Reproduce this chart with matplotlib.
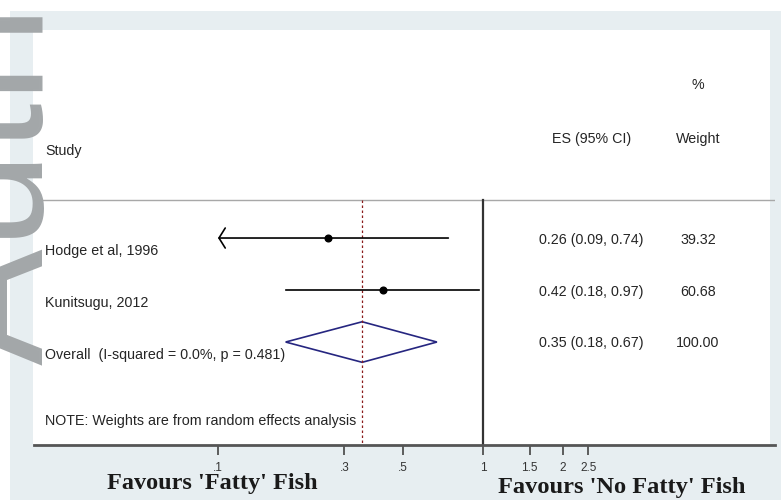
import matplotlib
matplotlib.use("Agg")
import matplotlib.pyplot as plt
from matplotlib.patches import Rectangle, Polygon
import matplotlib.transforms as mtransforms
import numpy as np

# study data (ES = odds ratio, 95% CI, % weight)
studies = ["Hodge et al, 1996", "Kunitsugu, 2012"]
es = [0.26, 0.42]
ci_lo = [0.09, 0.18]
ci_hi = [0.74, 0.97]
weights = [39.32, 60.68]

overall_label = "Overall  (I-squared = 0.0%, p = 0.481)"
overall_es = 0.35
overall_lo = 0.18
overall_hi = 0.67
overall_weight = 100.00

tick_vals = [0.1, 0.3, 0.5, 1, 1.5, 2, 2.5]
tick_labels = [".1", ".3", ".5", "1", "1.5", "2", "2.5"]
x_clip = 0.1   # CIs below this are drawn as arrows

W, H = 781, 500
fig = plt.figure(figsize=(W / 100, H / 100), dpi=100)
fig.patch.set_facecolor("white")

# light blue-grey page background behind the graph
fig.patches.append(Rectangle((10 / W, 0), 1 - 10 / W, (H - 11) / H,
                             transform=fig.transFigure, facecolor="#e7eef1",
                             edgecolor="none", zorder=-10))
fig.patches.append(Rectangle((33 / W, (H - 445) / H), (770 - 33) / W, (445 - 30) / H,
                             transform=fig.transFigure, facecolor="white",
                             edgecolor="none", zorder=-9))

L, R, T, B = 34, 775, 30, 445
ax = fig.add_axes([L / W, (H - B) / H, (R - L) / W, (B - T) / H])
ax.set_facecolor("none")
ax.set_xscale("log")
ax.set_xlim(10 ** ((L - 483) / 265), 10 ** ((R - 483) / 265))
ax.set_ylim(3.98, -4.0)

rows = np.arange(len(studies))
overall_row = len(studies)
sep_row = -0.73
txt_kw = dict(fontsize=10.3, color="#252525", family="Liberation Sans")

# blended transform: x in axes fraction, y in data rows
tb = mtransforms.blended_transform_factory(ax.transAxes, ax.transData)
col_study = 0.0155
col_es = 0.752
col_w = 0.896

ax.text(col_study, -1.68, "Study", transform=tb, ha="left", va="center", **txt_kw)
ax.text(col_es, -1.9, "ES (95% CI)", transform=tb, ha="center", va="center", **txt_kw)
ax.text(col_w, -1.9, "Weight", transform=tb, ha="center", va="center", **txt_kw)
ax.text(col_w, -2.95, "%", transform=tb, ha="center", va="center", **txt_kw)

ax.axhline(sep_row, color="#a8a8a8", lw=1.0)

# reference line at 1 and dashed line at the pooled estimate
ax.plot([1, 1], [sep_row, 3.98], color="#333333", lw=1.6, zorder=2)
ax.plot([overall_es, overall_es], [sep_row, 3.98], color="#8b1c1c", lw=0.9,
        ls=(0, (2, 2)), zorder=2)

for i, name in enumerate(studies):
    y = rows[i]
    lo = max(ci_lo[i], x_clip)
    if ci_lo[i] < x_clip:
        ax.annotate("", xy=(lo, y), xytext=(ci_hi[i], y),
                    arrowprops=dict(arrowstyle="->,head_length=0.25,head_width=0.4",
                                    lw=1.2, color="black", shrinkA=0, shrinkB=0,
                                    mutation_scale=18))
    else:
        ax.plot([lo, ci_hi[i]], [y, y], color="black", lw=1.2)
    ax.plot(es[i], y, "o", color="black", ms=4.8)
    ax.text(col_study, y + 0.24, name, transform=tb, ha="left", va="center", **txt_kw)
    ax.text(col_es, y + 0.04, f"{es[i]:.2f} ({ci_lo[i]:.2f}, {ci_hi[i]:.2f})",
            transform=tb, ha="center", va="center", **txt_kw)
    ax.text(col_w, y + 0.04, f"{weights[i]:.2f}", transform=tb, ha="center",
            va="center", **txt_kw)

# pooled diamond
dh = 0.39
ax.add_patch(Polygon([[overall_lo, overall_row], [overall_es, overall_row - dh],
                      [overall_hi, overall_row], [overall_es, overall_row + dh]],
                     closed=True, facecolor="none", edgecolor="#262680", lw=1.2))
ax.text(col_study, overall_row + 0.24, overall_label, transform=tb, ha="left",
        va="center", **txt_kw)
ax.text(col_es, overall_row + 0.02,
        f"{overall_es:.2f} ({overall_lo:.2f}, {overall_hi:.2f})",
        transform=tb, ha="center", va="center", **txt_kw)
ax.text(col_w, overall_row + 0.02, f"{overall_weight:.2f}", transform=tb,
        ha="center", va="center", **txt_kw)

ax.text(col_study, 3.52, "NOTE: Weights are from random effects analysis",
        transform=tb, ha="left", va="center", **txt_kw)

# axes styling
for s in ["top", "left", "right"]:
    ax.spines[s].set_visible(False)
ax.spines["bottom"].set_color("#555555")
ax.spines["bottom"].set_linewidth(2.0)
ax.set_yticks([])
ax.set_xticks(tick_vals)
ax.set_xticklabels(tick_labels)
ax.xaxis.set_minor_locator(matplotlib.ticker.NullLocator())
ax.tick_params(axis="x", direction="out", length=7, width=1.2, color="#444444",
               labelsize=8.5, labelcolor="#333333", pad=5)
for lab in ax.get_xticklabels():
    lab.set_family("Liberation Sans")

# axis captions
fig.text(212 / W, (H - 484) / H, "Favours 'Fatty' Fish", ha="center", va="center",
         fontsize=17.5, fontweight="bold", family="Liberation Serif", color="#1a1a1a")
fig.text(622 / W, (H - 488) / H, "Favours 'No Fatty' Fish", ha="center", va="center",
         fontsize=17.6, fontweight="bold", family="Liberation Serif", color="#1a1a1a")

# journal watermark, mostly off the left edge
fig.text(43 / W, (H - 365) / H, "Author Manuscript", rotation=90, rotation_mode="anchor",
         ha="left", va="baseline", fontsize=126, family="Liberation Sans",
         color="#a3a7a9", zorder=10)

fig.savefig("out.png", dpi=100)
